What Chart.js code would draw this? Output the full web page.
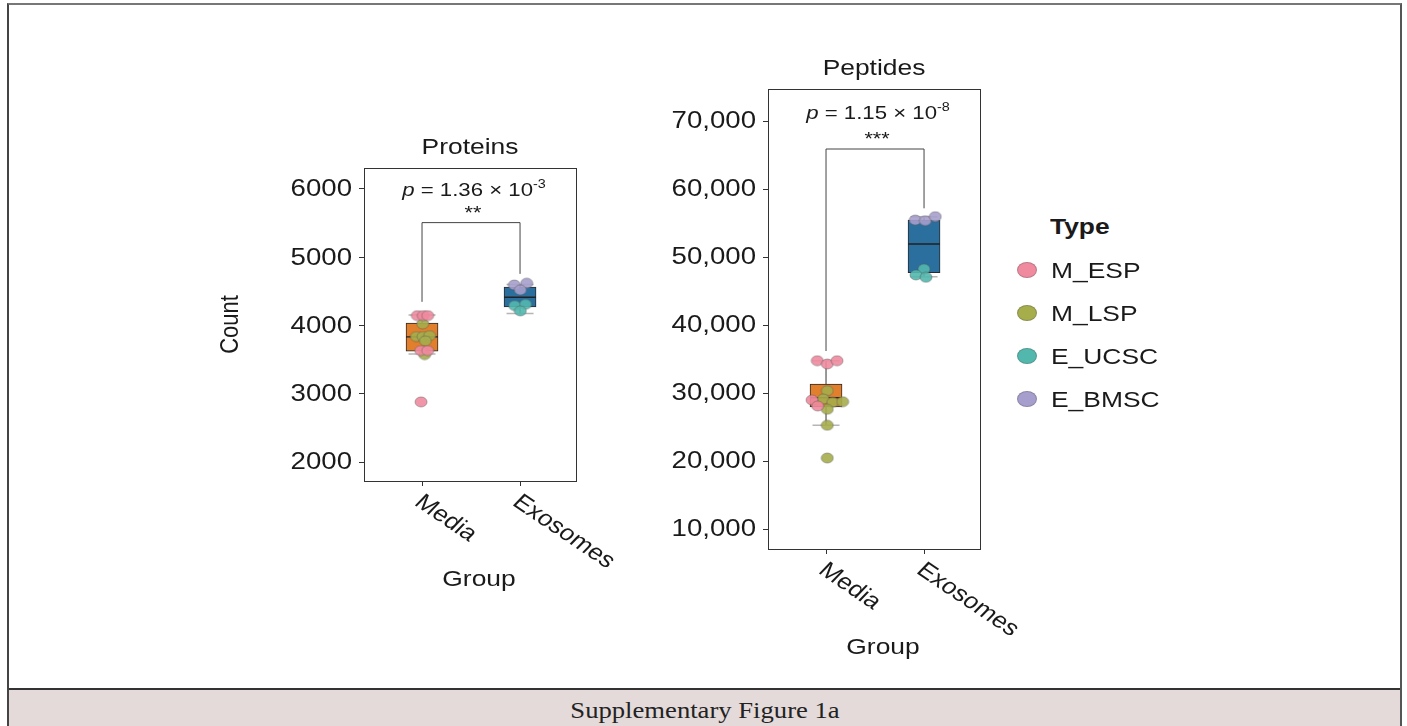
<!DOCTYPE html>
<html>
<head>
<meta charset="utf-8">
<script src="https://cdn.jsdelivr.net/npm/chart.js@4.4.0/dist/chart.umd.min.js"></script>
<style>
  html, body { margin: 0; padding: 0; background: #fff; overflow: hidden; }
  body { width: 1407px; height: 726px; position: relative; font-family: 'Liberation Sans', Arial, sans-serif; }
  #frame { position: absolute; left: 7px; top: 3px; width: 1391px; height: 740px;
           border-left: 2px solid #444; border-right: 2px solid #555; border-top: 2px solid #777; }
  #caption { position: absolute; left: 0; top: 683px; width: 100%; height: 60px; background: #e4dada;
             border-top: 2px solid #333; }
  #caption span { position: absolute; left: 50%; top: 7px; white-space: nowrap;
                  transform: translateX(-50%) scaleX(1.11);
                  font-family: 'Liberation Serif', 'DejaVu Serif', serif; font-size: 24px; color: #222; }
  canvas { position: absolute; }
  #cProt { left: 200px; top: 100px; }
  #cPep { left: 600px; top: 20px; }
  #legend { position: absolute; left: 1010px; top: 210px; color: #1a1a1a; }
  #legend .ttl { position: absolute; left: 40px; top: 4px; font-weight: bold; font-size: 22px;
                 transform: scaleX(1.2); transform-origin: 0 0; }
  #legend .it { position: absolute; left: 7px; height: 24px; white-space: nowrap; }
  #legend .dot { position: absolute; left: 0; top: 3px; width: 20px; height: 16px; border-radius: 50%;
                 box-sizing: border-box; border: 1px solid rgba(90,90,90,0.35); }
  #legend .lab { position: absolute; left: 34px; top: -1px; font-size: 22px;
                 transform: scaleX(1.2); transform-origin: 0 0; }
</style>
</head>
<body>
<div id="frame"><div id="caption"><span>Supplementary Figure 1a</span></div></div>
<canvas id="cProt" width="440" height="520"></canvas>
<canvas id="cPep" width="440" height="660"></canvas>
<div id="legend"></div>

<script>
// ---- shared categories and point types ----
const groups = ['Media', 'Exosomes'];
const types = ['M_ESP', 'M_LSP', 'E_UCSC', 'E_BMSC'];
const typeColors = ['#f08a9e', '#a6ad4b', '#52b8ae', '#a69ecc'];
const boxColors = ['#e27f2c', '#2b6f9e'];

// ---- Proteins panel ----
const protTicks = [2000, 3000, 4000, 5000, 6000];
const protTickLabels = ['2000', '3000', '4000', '5000', '6000'];
const protQ1 = [3624, 4272];
const protMedian = [3833, 4414];
const protQ3 = [4034, 4561];
const protWhiskerLow = [3584, 4174];
const protWhiskerHigh = [4155, 4600];
const protBracket = [4346, 5507, 4756]; // left foot, top, right foot
const protM_ESP = [{x: 0.952, y: 4145}, {x: 1.013, y: 4145}, {x: 1.058, y: 4145}, {x: 0.987, y: 3632}, {x: 1.058, y: 3632}, {x: 0.99, y: 2881}];
const protM_LSP = [{x: 1.007, y: 4023}, {x: 0.942, y: 3838}, {x: 1.01, y: 3838}, {x: 1.078, y: 3852}, {x: 1.034, y: 3775}, {x: 1.027, y: 3574}];
const protE_UCSC = [{x: 1.945, y: 4291}, {x: 2.056, y: 4311}, {x: 2.003, y: 4214}];
const protE_BMSC = [{x: 1.942, y: 4594}, {x: 2.068, y: 4619}, {x: 2.003, y: 4521}];

// ---- Peptides panel ----
const pepTicks = [10000, 20000, 30000, 40000, 50000, 60000, 70000];
const pepTickLabels = ['10,000', '20,000', '30,000', '40,000', '50,000', '60,000', '70,000'];
const pepQ1 = [27950, 47691];
const pepMedian = [29300, 51912];
const pepQ3 = [31300, 55441];
const pepWhiskerLow = [25250, 47103];
const pepWhiskerHigh = [34750, 55931];
const pepBracket = [36176, 65882, 57162];
const pepM_ESP = [{x: 0.911, y: 34750}, {x: 1.013, y: 34265}, {x: 1.112, y: 34750}, {x: 0.857, y: 28970}, {x: 0.915, y: 28088}];
const pepM_LSP = [{x: 1.013, y: 30338}, {x: 0.972, y: 29118}, {x: 1.068, y: 28632}, {x: 1.17, y: 28720}, {x: 1.013, y: 27603}, {x: 1.013, y: 25250}, {x: 1.013, y: 20441}];
const pepE_UCSC = [{x: 2.0, y: 48235}, {x: 1.918, y: 47353}, {x: 2.02, y: 47015}];
const pepE_BMSC = [{x: 1.911, y: 55441}, {x: 2.013, y: 55343}, {x: 2.115, y: 55931}];

const FONT = "'Liberation Sans', Arial, sans-serif";
const INK = '#1a1a1a';
const SX = 1.2; // horizontal text stretch of the figure's typeface

function alpha(hex, a) {
  const n = parseInt(hex.slice(1), 16);
  return `rgba(${n >> 16},${(n >> 8) & 255},${n & 255},${a})`;
}

// slightly wide oval markers
function ovalMarker(color) {
  const c = document.createElement('canvas');
  c.width = 14; c.height = 12;
  const g = c.getContext('2d');
  g.beginPath();
  g.ellipse(7, 6, 6, 5, 0, 0, Math.PI * 2);
  g.fillStyle = alpha(color, 0.9);
  g.fill();
  g.lineWidth = 0.8;
  g.strokeStyle = 'rgba(85,85,85,0.55)';
  g.stroke();
  return c;
}

function wideText(ctx, text, x, y) {
  ctx.save();
  ctx.translate(x, y);
  ctx.scale(SX, 1);
  ctx.fillText(text, 0, 0);
  ctx.restore();
}

function boxPlugin(p) {
  return {
    id: 'boxdecor',
    beforeDatasetsDraw(chart) {
      const {ctx} = chart, xs = chart.scales.x, ys = chart.scales.y;
      ctx.save();
      // whiskers
      for (let i = 0; i < groups.length; i++) {
        const cx = xs.getPixelForValue(i + 1);
        ctx.strokeStyle = '#333'; ctx.lineWidth = 1;
        ctx.beginPath();
        ctx.moveTo(cx, ys.getPixelForValue(p.q3[i])); ctx.lineTo(cx, ys.getPixelForValue(p.hi[i]));
        ctx.moveTo(cx, ys.getPixelForValue(p.q1[i])); ctx.lineTo(cx, ys.getPixelForValue(p.lo[i]));
        ctx.stroke();
        ctx.strokeStyle = '#b5b5b5'; ctx.lineWidth = 1.5;
        ctx.beginPath();
        [p.hi[i], p.lo[i]].forEach(v => {
          const y = ys.getPixelForValue(v);
          ctx.moveTo(cx - 13.5, y); ctx.lineTo(cx + 13.5, y);
        });
        ctx.stroke();
      }
      // significance bracket
      const x1 = xs.getPixelForValue(1), x2 = xs.getPixelForValue(2);
      ctx.strokeStyle = '#444'; ctx.lineWidth = 1;
      ctx.beginPath();
      ctx.moveTo(x1, ys.getPixelForValue(p.bracket[0]));
      ctx.lineTo(x1, ys.getPixelForValue(p.bracket[1]));
      ctx.lineTo(x2, ys.getPixelForValue(p.bracket[1]));
      ctx.lineTo(x2, ys.getPixelForValue(p.bracket[2]));
      ctx.stroke();
      ctx.restore();
    },
    afterDatasetDraw(chart, args) {
      if (args.index !== 0) return;
      const {ctx} = chart, xs = chart.scales.x, ys = chart.scales.y;
      ctx.save();
      ctx.strokeStyle = '#222'; ctx.lineWidth = 1.3;
      ctx.beginPath();
      for (let i = 0; i < groups.length; i++) {
        const cx = xs.getPixelForValue(i + 1), y = ys.getPixelForValue(p.med[i]);
        ctx.moveTo(cx - 16, y); ctx.lineTo(cx + 16, y);
      }
      ctx.stroke();
      ctx.restore();
    },
    afterDraw(chart) {
      const {ctx, chartArea: a} = chart, xs = chart.scales.x, ys = chart.scales.y;
      ctx.save();
      // panel frame
      ctx.strokeStyle = '#333'; ctx.lineWidth = 1;
      ctx.strokeRect(Math.round(a.left) + 0.5, Math.round(a.top) + 0.5, Math.round(a.right - a.left), Math.round(a.bottom - a.top));
      ctx.fillStyle = INK;
      // y tick labels
      ctx.font = `23px ${FONT}`; ctx.textAlign = 'right'; ctx.textBaseline = 'middle';
      p.ticks.forEach((v, i) => wideText(ctx, p.tickLabels[i], a.left - 12, ys.getPixelForValue(v) + 1));
      // title and axis titles
      ctx.font = `22px ${FONT}`; ctx.textAlign = 'center'; ctx.textBaseline = 'middle';
      wideText(ctx, p.title, (a.left + a.right) / 2, a.top - 20);
      wideText(ctx, 'Group', (a.left + a.right) / 2 + 9, a.bottom + 99);
      if (p.yTitle) {
        ctx.save();
        ctx.translate(31, (a.top + a.bottom) / 2);
        ctx.scale(SX, 1);
        ctx.rotate(-Math.PI / 2);
        ctx.fillText(p.yTitle, 0, 0);
        ctx.restore();
      }
      // rotated category labels
      ctx.font = `22px ${FONT}`; ctx.textAlign = 'left'; ctx.textBaseline = 'top';
      groups.forEach((g, i) => {
        const px = xs.getPixelForValue(i + 1);
        ctx.save();
        ctx.translate(px + 4, a.bottom + 10);
        ctx.scale(SX, 1);
        ctx.rotate(39 * Math.PI / 180);
        ctx.fillText(g, 0, 0);
        ctx.restore();
      });
      // p value annotation
      const x1 = xs.getPixelForValue(1), x2 = xs.getPixelForValue(2);
      const mid = (x1 + x2) / 2;
      const base = a.top + p.pOffset + 6;
      const parts = [
        {t: 'p', f: `italic 18.5px ${FONT}`, dy: 0},
        {t: ' = ' + p.pMantissa + ' × 10', f: `18.5px ${FONT}`, dy: 0},
        {t: p.pExp, f: `12px ${FONT}`, dy: -8}
      ];
      let w = 0;
      parts.forEach(q => { ctx.font = q.f; q.w = ctx.measureText(q.t).width * SX; w += q.w; });
      let x = mid + 3 - w / 2;
      ctx.textAlign = 'left'; ctx.textBaseline = 'alphabetic';
      parts.forEach(q => { ctx.font = q.f; wideText(ctx, q.t, x, base + q.dy); x += q.w; });
      // stars
      ctx.font = `18px ${FONT}`; ctx.textAlign = 'center'; ctx.textBaseline = 'middle';
      wideText(ctx, p.stars, mid + 2, ys.getPixelForValue(p.bracket[1]) - 9);
      ctx.restore();
    }
  };
}

function makePanel(id, p) {
  const pointSets = [p.M_ESP, p.M_LSP, p.E_UCSC, p.E_BMSC];
  const datasets = [{
    type: 'bar',
    data: groups.map((g, i) => ({x: i + 1, y: [p.q1[i], p.q3[i]]})),
    backgroundColor: boxColors,
    borderColor: '#2a2a2a',
    borderWidth: 1,
    borderSkipped: false,
    barThickness: 32,
    order: 1
  }];
  pointSets.forEach((pts, k) => datasets.push({
    type: 'scatter',
    label: types[k],
    data: pts,
    pointStyle: ovalMarker(typeColors[k]),
    order: 0
  }));
  return new Chart(document.getElementById(id), {
    type: 'bar',
    data: {datasets},
    options: {
      responsive: false,
      animation: false,
      devicePixelRatio: 1,
      layout: {padding: {top: p.padTop, right: p.padRight, left: 0, bottom: 0}},
      plugins: {legend: {display: false}, tooltip: {enabled: false}},
      scales: {
        x: {
          type: 'linear', position: 'bottom', min: 0.408, max: 2.571, offset: false,
          afterBuildTicks: s => { s.ticks = groups.map((g, i) => ({value: i + 1})); },
          afterFit: s => { s.height = p.xAxisH; },
          ticks: {display: false},
          grid: {offset: false, drawOnChartArea: false, drawTicks: true, tickLength: 5, color: '#333'},
          border: {display: true, color: '#333'}
        },
        y: {
          type: 'linear', min: p.yMin, max: p.yMax,
          afterBuildTicks: s => { s.ticks = p.ticks.map(v => ({value: v})); },
          afterFit: s => { s.width = p.yAxisW; },
          ticks: {display: false},
          grid: {drawOnChartArea: false, drawTicks: true, tickLength: 5, color: '#333'},
          border: {display: true, color: '#333'}
        }
      }
    },
    plugins: [boxPlugin(p)]
  });
}

makePanel('cProt', {
  title: 'Proteins', yTitle: 'Count',
  yMin: 1722, yMax: 6307, ticks: protTicks, tickLabels: protTickLabels,
  q1: protQ1, med: protMedian, q3: protQ3, lo: protWhiskerLow, hi: protWhiskerHigh,
  bracket: protBracket, pMantissa: '1.36', pExp: '-3', stars: '**', pOffset: 22,
  M_ESP: protM_ESP, M_LSP: protM_LSP, E_UCSC: protE_UCSC, E_BMSC: protE_BMSC,
  padTop: 68, padRight: 64, yAxisW: 164, xAxisH: 139
});

makePanel('cPep', {
  title: 'Peptides', yTitle: null,
  yMin: 7059, yMax: 74706, ticks: pepTicks, tickLabels: pepTickLabels,
  q1: pepQ1, med: pepMedian, q3: pepQ3, lo: pepWhiskerLow, hi: pepWhiskerHigh,
  bracket: pepBracket, pMantissa: '1.15', pExp: '-8', stars: '***', pOffset: 24,
  M_ESP: pepM_ESP, M_LSP: pepM_LSP, E_UCSC: pepE_UCSC, E_BMSC: pepE_BMSC,
  padTop: 69, padRight: 60, yAxisW: 168, xAxisH: 131
});

// legend for point types
const leg = document.getElementById('legend');
leg.innerHTML = '<div class="ttl">Type</div>' + types.map((t, k) =>
  `<div class="it" style="top:${49 + k * 43}px"><div class="dot" style="background:${typeColors[k]}"></div><div class="lab">${t}</div></div>`
).join('');
</script>
</body>
</html>
